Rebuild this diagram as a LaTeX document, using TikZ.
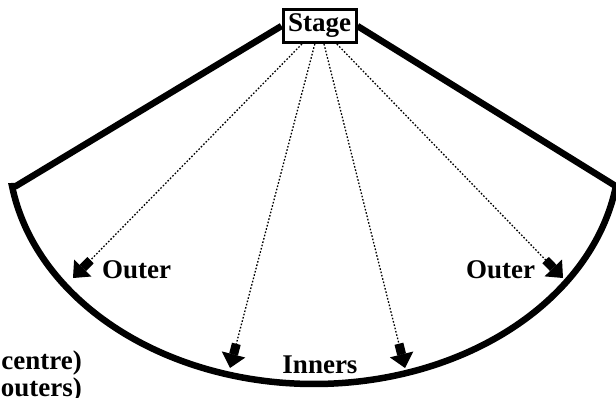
\documentclass[tikz,border=0pt]{standalone}
\usepackage{fontspec}
\setmainfont{Liberation Serif}
\usetikzlibrary{arrows.meta}
\begin{document}
\begin{tikzpicture}[x=1pt,y=-1pt,
  lbl/.style={font=\fontsize{27}{29}\selectfont\bfseries, inner sep=0pt},
  outline/.style={line width=6.5pt, line join=miter},
  ray/.style={line width=1.3pt, dash pattern=on 1.6pt off 1.8pt,
    -{Rectangle[length=11pt,width=9pt] Triangle[length=14pt,width=24pt]}}]
\useasboundingbox (0,0) rectangle (616,397);
\clip (0,0) rectangle (616,397);
\fill[white] (0,0) rectangle (616,397);
\node[lbl, draw, line width=3pt, minimum width=73pt, minimum height=33pt] (stage) at (319.5,26) {Stage};
\coordinate (L) at (16,186);
\coordinate (R) at (612,186);
\draw[outline] (stage.west) -- (L)
  -- plot[domain=171.1:8.9, samples=80, smooth] ({314+305.6*cos(\x)},{150+234*sin(\x)})
  -- (stage.east);
\coordinate (t1) at (73,278);
\coordinate (t2) at (230,368);
\coordinate (t3) at (405,368);
\coordinate (t4) at (563,278);
\draw[ray] (stage) -- (t1);
\draw[ray] (stage) -- (t2);
\draw[ray] (stage) -- (t3);
\draw[ray] (stage) -- (t4);
\node[lbl, anchor=base west] (o1) at (102,278) {Outer};
\node[lbl, anchor=base west] (o2) at (466,278) {Outer};
\node[lbl, anchor=base] (in) at (320,373) {Inners};
\node[lbl, anchor=base east] (c1) at (82,369) {centre)};
\node[lbl, anchor=base east] (c2) at (82,396) {outers)};
\end{tikzpicture}
\end{document}
